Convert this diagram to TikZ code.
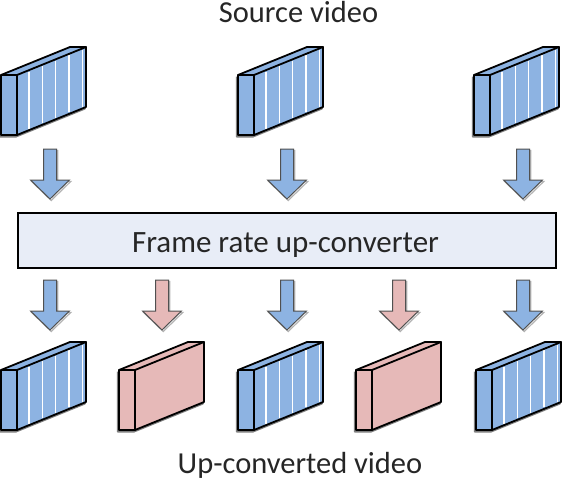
\documentclass[tikz,border=0pt]{standalone}
\usepackage{fontspec}
\setmainfont{Carlito}
\definecolor{fblue}{HTML}{8DB3E2}
\definecolor{fpink}{HTML}{E6B9B8}
\definecolor{boxfill}{HTML}{E8EDF7}
\definecolor{shad}{HTML}{7F7F7F}
\definecolor{aline}{HTML}{505050}
\tikzset{
  edge/.style={line width=1.8pt, line join=round, draw=black},
  shadowedge/.style={line width=2pt, line join=round, draw=shad},
  stripe/.style={line width=1.3pt, draw=white},
  blockarrow/.style={line width=1pt, draw=aline, line join=miter},
  frameframe/.pic={
    \begin{scope}[xshift=-1.2pt,yshift=-1.6pt]
      \draw[shadowedge] (0,0) -- (0,60) -- (16,60) -- (85,32) -- (85,-28);
    \end{scope}
    \fill[#1] (0,0) -- (16,0) -- (16,60) -- (0,60) -- cycle;
    \fill[#1] (16,0) -- (85,-28) -- (85,32) -- (16,60) -- cycle;
    \fill[#1] (0,0) -- (69,-28) -- (85,-28) -- (16,0) -- cycle;
  },
  stripes/.pic={
    \foreach \s in {12,25.3,38.6,51.9,65.2}{
      \draw[stripe] (16+\s,-0.406*\s+1.5) -- (16+\s,60-0.406*\s-1.5);
    }
  },
  frameedges/.pic={
    \draw[edge] (0,0) -- (16,0) -- (16,60) -- (0,60) -- cycle;
    \draw[edge] (16,60) -- (85,32) -- (85,-28) -- (16,0);
    \draw[edge] (0,0) -- (69,-28) -- (85,-28);
  },
  bframe/.pic={
    \pic {frameframe=fblue};
    \pic {stripes};
    \pic {frameedges};
  },
  pframe/.pic={
    \pic {frameframe=fpink};
    \pic {frameedges};
  },
  darrow/.pic={
    \begin{scope}[xshift=1.2pt,yshift=-1.5pt]
      \draw[line width=1.2pt, draw=shad!60, line join=miter]
        (6.5,0) -- (6.5,31) -- (19.5,31) -- (0,50) -- (-19.5,31) -- (-6.5,31) -- (-6.5,0) -- cycle;
    \end{scope}
    \draw[blockarrow, fill=#1]
      (-6.5,0) -- (6.5,0) -- (6.5,31) -- (19.5,31) -- (0,50) -- (-19.5,31) -- (-6.5,31) -- cycle;
  },
  label/.style={font=\fontsize{30.5}{36}\selectfont, text=black!85, anchor=base, inner sep=0pt}
}
\begin{document}
\begin{tikzpicture}[x=1pt,y=-1pt]
\useasboundingbox (0,0) rectangle (562,480);
% title
\node[label] (src) at (298.5,22) {Source video};
% source frames
\pic at (1,75) {bframe};
\pic at (238,75) {bframe};
\pic at (474,75) {bframe};
% top arrows
\pic at (50,149) {darrow=fblue};
\pic at (287,149) {darrow=fblue};
\pic at (523,149) {darrow=fblue};
% converter box
\node[draw=black, line width=2pt, fill=boxfill, minimum width=538pt, minimum height=55pt,
      inner sep=0pt, anchor=north west] (conv) at (17,212) {};
\node[font=\fontsize{31}{37}\selectfont, text=black!85, anchor=base, inner sep=0pt] (convtext)
      at (285.5,252) {Frame rate up-converter};
% bottom arrows
\pic at (50,280) {darrow=fblue};
\pic at (162,280) {darrow=fpink};
\pic at (287,280) {darrow=fblue};
\pic at (399,280) {darrow=fpink};
\pic at (523,280) {darrow=fblue};
% output frames
\pic at (1,370) {bframe};
\pic at (119,370) {pframe};
\pic at (238,370) {bframe};
\pic at (356,370) {pframe};
\pic at (476,370) {bframe};
% bottom label
\node[label] (out) at (300,473) {Up-converted video};
\end{tikzpicture}
\end{document}
